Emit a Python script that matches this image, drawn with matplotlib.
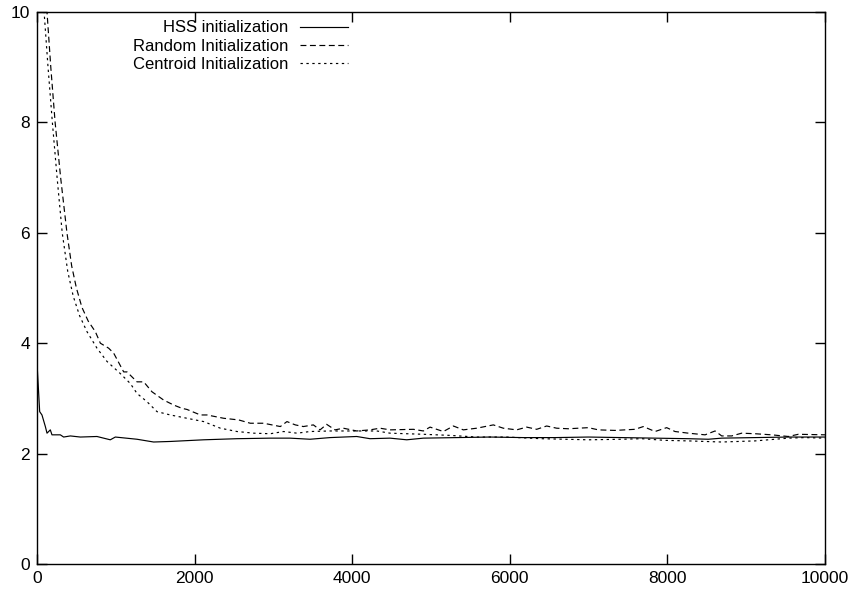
import matplotlib
matplotlib.use("Agg")
import matplotlib.pyplot as plt

plt.rcParams['font.family'] = ['Liberation Sans', 'DejaVu Sans']

hss_x = [0, 34, 63, 106, 127, 169, 190, 296, 338, 423, 550, 761, 930, 994, 1269, 1480,
         1692, 2115, 2538, 2961, 3211, 3465, 3719, 4057, 4226, 4480, 4692, 4903, 5326,
         5749, 6172, 6574, 6997, 7420, 7843, 8266, 8520, 8689, 9112, 9535, 10000]
hss_y = [3.64, 2.76, 2.70, 2.49, 2.37, 2.43, 2.34, 2.34, 2.30, 2.32, 2.30, 2.31, 2.25,
         2.30, 2.26, 2.21, 2.22, 2.25, 2.27, 2.28, 2.28, 2.26, 2.29, 2.31, 2.27, 2.28,
         2.25, 2.28, 2.29, 2.30, 2.29, 2.29, 2.30, 2.29, 2.28, 2.27, 2.26, 2.28, 2.29,
         2.30, 2.30]

rand_x = [80, 127, 175, 230, 300, 380, 440, 500, 570, 650, 740, 804, 909, 973, 1100,
          1142, 1269, 1354, 1459, 1607, 1734, 1840, 1903, 2073, 2157, 2369, 2559, 2707,
          2876, 3088, 3172, 3278, 3380, 3507, 3592, 3676, 3782, 3888, 4057, 4226, 4353,
          4480, 4776, 4903, 4988, 5157, 5284, 5410, 5580, 5791, 5918, 6087, 6214, 6341,
          6468, 6595, 6743, 6997, 7124, 7335, 7589, 7695, 7843, 7991, 8097, 8266, 8478,
          8605, 8689, 8816, 8943, 9112, 9324, 9535, 9662, 10000]
rand_y = [11.2, 10.0, 9.0, 8.0, 7.0, 6.0, 5.4, 5.0, 4.65, 4.4, 4.21, 4.00, 3.91, 3.82,
          3.48, 3.48, 3.30, 3.30, 3.12, 2.97, 2.88, 2.82, 2.80, 2.70, 2.70, 2.64, 2.61,
          2.55, 2.55, 2.49, 2.58, 2.52, 2.49, 2.52, 2.43, 2.53, 2.43, 2.46, 2.41, 2.43,
          2.46, 2.43, 2.44, 2.41, 2.48, 2.40, 2.50, 2.43, 2.46, 2.52, 2.46, 2.43, 2.48,
          2.44, 2.50, 2.46, 2.45, 2.47, 2.43, 2.42, 2.44, 2.49, 2.40, 2.47, 2.40, 2.37,
          2.34, 2.41, 2.32, 2.32, 2.37, 2.36, 2.34, 2.31, 2.35, 2.34]

cent_x = [50, 90, 140, 195, 255, 320, 390, 460, 540, 634, 761, 888, 1057, 1184, 1269,
          1396, 1523, 1692, 1903, 2115, 2327, 2538, 2750, 2961, 3130, 3299, 3465, 3719,
          4057, 4311, 4480, 4903, 5241, 5580, 5960, 6400, 6997, 7420, 7674, 7970, 8266,
          8689, 9112, 9281, 9535, 9747, 10000]
cent_y = [11.5, 10.0, 9.0, 8.0, 7.0, 6.0, 5.3, 4.85, 4.5, 4.21, 3.91, 3.67, 3.45, 3.27,
          3.09, 2.94, 2.76, 2.70, 2.64, 2.58, 2.46, 2.40, 2.37, 2.36, 2.40, 2.37, 2.40,
          2.41, 2.41, 2.41, 2.37, 2.35, 2.33, 2.30, 2.30, 2.27, 2.25, 2.26, 2.27, 2.24,
          2.23, 2.21, 2.23, 2.25, 2.28, 2.29, 2.28]

labels = ["HSS initialization", "Random Initialization", "Centroid Initialization"]
x_ticks = [0, 2000, 4000, 6000, 8000, 10000]
y_ticks = [0, 2, 4, 6, 8, 10]

fig = plt.figure(figsize=(8.5, 5.92), dpi=100)
ax = fig.add_axes([37/850, 1-564/592, (825-37)/850, (564-12)/592])

ax.plot(hss_x, hss_y, color='black', lw=0.85, ls='-', label=labels[0])
ax.plot(rand_x, rand_y, color='black', lw=0.85, ls=(0, (5, 3)), label=labels[1])
ax.plot(cent_x, cent_y, color='black', lw=0.85, ls=(0, (2, 3)), label=labels[2])

ax.set_xlim(0, 10000)
ax.set_ylim(0, 10)
ax.set_xticks(x_ticks)
ax.set_yticks(y_ticks)
ax.set_xticklabels([str(v) for v in x_ticks])
ax.set_yticklabels([str(v) for v in y_ticks])
ax.tick_params(direction='in', length=7, width=1, top=True, right=True,
               labelsize=12.5, pad=5)
for s in ax.spines.values():
    s.set_linewidth(1)

leg = ax.legend(loc='upper right', bbox_to_anchor=(348/850, 1-20.5/592),
                bbox_transform=fig.transFigure, frameon=False, markerfirst=False,
                borderpad=0, borderaxespad=0, handlelength=2.9, handletextpad=0.7,
                labelspacing=0.2, fontsize=12)

fig.savefig("out.png", dpi=100)
